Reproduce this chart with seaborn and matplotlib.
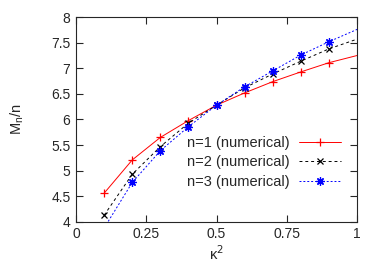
import matplotlib
matplotlib.use("Agg")
import matplotlib.pyplot as plt
import seaborn as sns
import pandas as pd

kappa2 = [0.1, 0.2, 0.3, 0.4, 0.5, 0.6, 0.7, 0.8, 0.9, 1.0]
n1 = [4.56, 5.21, 5.65, 5.98, 6.28, 6.52, 6.74, 6.93, 7.11, 7.25]
n2 = [4.13, 4.93, 5.47, 5.93, 6.28, 6.62, 6.89, 7.14, 7.38, 7.57]
n3 = [3.88, 4.77, 5.39, 5.86, 6.28, 6.64, 6.95, 7.26, 7.52, 7.76]
labels = ["n=1 (numerical)", "n=2 (numerical)", "n=3 (numerical)"]
xticks = [0, 0.25, 0.5, 0.75, 1]
xticklabels = ["0", "0.25", "0.5", "0.75", "1"]
yticks = [4, 4.5, 5, 5.5, 6, 6.5, 7, 7.5, 8]
yticklabels = ["4", "4.5", "5", "5.5", "6", "6.5", "7", "7.5", "8"]

sns.set_style("ticks")
plt.rcParams["font.family"] = ["Liberation Sans", "DejaVu Sans"]
plt.rcParams["font.size"] = 10

fig = plt.figure(figsize=(3.82, 2.67), dpi=100)
ax = fig.add_axes([0.199, 0.169, 0.736, 0.767])

styles = [
    dict(color="#ff0000", linestyle="-", marker="+", markersize=6),
    dict(color="#000000", linestyle=(0, (3, 3)), marker="x", markersize=5),
    dict(color="#0000ff", linestyle=(0, (2, 2)), marker=(8, 2, 0), markersize=6),
]
for vals, lab, st in zip([n1, n2, n3], labels, styles):
    df = pd.DataFrame({"k": kappa2, "v": vals})
    sns.lineplot(data=df, x="k", y="v", ax=ax, label=lab, linewidth=0.7,
                 markeredgewidth=0.9, markeredgecolor=st["color"],
                 color=st["color"], linestyle=st["linestyle"],
                 marker=st["marker"], markersize=st["markersize"],
                 markevery=slice(0, len(kappa2) - 1))

ax.set_xlim(0, 1)
ax.set_ylim(4, 8)
ax.set_xticks(xticks)
ax.set_xticklabels(xticklabels)
ax.set_yticks(yticks)
ax.set_yticklabels(yticklabels)
ax.tick_params(direction="in", top=True, right=True, length=5, width=0.8,
               labelsize=10, pad=4)
for s in ax.spines.values():
    s.set_linewidth(0.8)
    s.set_visible(True)
ax.set_xlabel("κ$^2$", fontsize=10.5, labelpad=2)
ax.set_ylabel("M$_\\mathregular{n}$/n", fontsize=10.5, labelpad=18)

leg = ax.legend(loc="upper right", bbox_to_anchor=(0.943, 0.42), frameon=False,
                markerfirst=False, handlelength=2.9, fontsize=10.5,
                labelspacing=0.38, handletextpad=0.6, borderaxespad=0,
                borderpad=0)

fig.savefig("out.png", dpi=100)
